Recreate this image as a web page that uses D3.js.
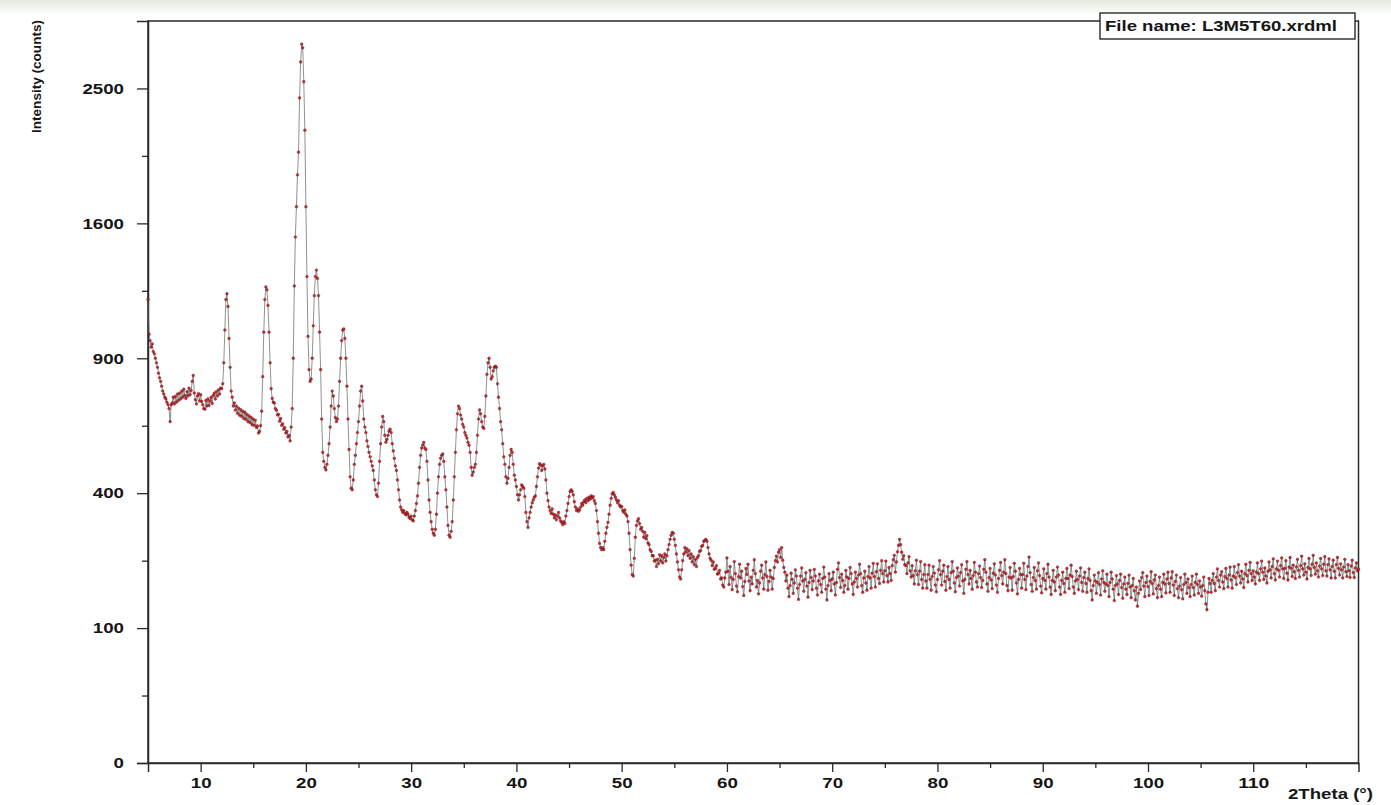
<!DOCTYPE html>
<html>
<head>
<meta charset="utf-8">
<script src="https://cdn.jsdelivr.net/npm/d3@7/dist/d3.min.js"></script>
<style>
  html, body { margin: 0; padding: 0; background: #fff; }
  svg { display: block; }
</style>
</head>
<body>
<svg id="chart" width="1391" height="805"></svg>
<script>
// Low-angle part of the scan: 5.0° to 59.9°, 0.1° per step
const lowScanStart = 5.0;
const lowScanStep = 0.1;
const lowScanCounts = [
  1180,1010,980,950,965,930,920,900,880,860,      // 5°
  835,815,800,780,760,748,735,728,715,705,        // 6°
  690,640,705,712,735,708,738,715,748,722,        // 7°
  752,728,760,735,768,742,730,758,740,772,        // 8°
  745,762,800,825,752,725,708,740,750,720,        // 9°
  745,718,705,690,688,722,700,728,702,720,        // 10°
  735,710,742,752,728,758,740,765,748,772,        // 11°
  770,790,880,1030,1180,1210,1145,990,860,760,    // 12°
  735,700,712,684,700,672,692,664,686,660,        // 13°
  680,652,676,648,668,640,662,636,656,628,        // 14°
  650,626,645,618,624,598,604,625,680,820,        // 15°
  1020,1180,1245,1230,1150,1020,880,770,730,715,  // 16°
  712,690,684,665,668,642,652,626,632,612,        // 17°
  618,598,604,584,590,570,620,690,900,1250,       // 18°
  1520,1700,1900,2050,2430,2700,2840,2810,2550,2200, // 19°
  1700,1300,1000,850,800,810,900,1050,1200,1300,  // 20°
  1335,1290,1200,1020,850,650,530,500,480,472,    // 21°
  490,520,560,620,700,760,740,690,655,640,        // 22°
  650,700,800,900,980,1030,1035,990,900,780,      // 23°
  650,540,450,415,410,440,490,520,560,600,        // 24°
  640,700,760,780,720,650,620,600,570,550,        // 25°
  530,515,500,485,470,440,410,395,390,430,        // 26°
  500,560,620,660,640,590,565,575,590,605,        // 27°
  612,600,560,535,510,485,470,440,410,380,        // 28°
  360,352,345,350,342,338,345,340,332,328,        // 29°
  335,325,322,335,350,370,392,430,480,520,        // 30°
  545,555,565,545,540,500,440,380,345,320,        // 31°
  300,290,285,300,340,400,450,490,510,520,        // 32°
  525,500,450,410,360,310,285,280,295,320,        // 33°
  380,450,530,610,670,700,690,665,650,630,        // 34°
  620,600,590,580,565,555,530,480,455,465,        // 35°
  480,490,530,590,650,685,670,640,620,615,        // 36°
  660,740,830,880,900,860,810,820,845,860,        // 37°
  865,860,790,735,690,640,610,560,515,490,        // 38°
  450,430,445,480,520,540,530,490,455,440,        // 39°
  420,395,380,395,410,425,420,415,390,345,        // 40°
  320,305,330,345,360,372,380,388,392,420,        // 41°
  450,478,492,488,470,485,490,475,440,400,        // 42°
  378,360,350,342,355,340,330,338,325,335,        // 43°
  345,330,322,318,312,320,315,335,350,370,        // 44°
  390,405,410,405,395,375,360,350,355,348,        // 45°
  352,360,370,365,375,380,372,385,378,388,        // 46°
  382,392,386,390,378,370,350,320,290,265,        // 47°
  255,250,255,250,270,290,305,318,340,365,        // 48°
  385,398,402,395,388,380,372,378,365,360,        // 49°
  362,350,345,352,340,335,320,290,250,215,        // 50°
  195,192,230,280,310,322,328,315,300,305,        // 51°
  295,280,292,276,284,266,262,250,246,236,        // 52°
  236,224,226,212,228,218,238,224,236,220,        // 53°
  232,240,224,236,250,262,275,285,292,290,        // 54°
  275,260,240,222,205,190,186,205,225,240,        // 55°
  255,244,252,236,248,230,240,222,234,216,        // 56°
  228,212,232,236,246,248,258,260,270,272,        // 57°
  275,270,255,240,230,226,214,222,206,208,        // 58°
  214,196,198,204,186,188,174,170,188,200         // 59°
];

// High-angle part of the scan: 60.0° to 120.0°, 0.1° per step
const highScanStart = 60.0;
const highScanStep = 0.1;
const highScanCounts = [
  231,202,175,212,189,165,185,223,197,172,   // 60°
  161,191,217,188,202,171,154,181,208,195,   // 61°
  217,182,163,190,176,204,227,197,170,183,   // 62°
  157,178,202,215,188,166,195,222,191,164,   // 63°
  181,204,190,166,187,210,225,235,222,244,   // 64°
  250,232,255,226,210,200,182,194,168,152,   // 65°
  173,198,185,158,178,205,192,168,147,175,   // 66°
  192,209,182,162,185,199,172,151,179,204,   // 67°
  189,165,182,206,192,168,155,182,196,175,   // 68°
  160,187,211,190,166,146,173,197,183,163,   // 69°
  186,200,176,155,179,206,220,189,169,196,   // 70°
  183,160,173,204,190,166,187,210,197,176,   // 71°
  156,180,200,187,170,194,217,197,173,160,   // 72°
  188,202,178,164,191,212,188,168,198,219,   // 73°
  191,170,201,218,187,177,204,225,197,180,   // 74°
  203,224,193,180,210,197,183,214,227,237,   // 75°
  200,222,245,260,275,262,244,228,236,216,   // 76°
  214,197,220,234,203,190,214,193,176,203,   // 77°
  226,195,175,202,223,185,168,195,216,182,   // 78°
  168,195,215,185,164,191,212,198,174,161,   // 79°
  185,205,225,195,174,202,215,181,164,191,   // 80°
  212,185,168,199,223,202,178,161,189,209,   // 81°
  192,172,199,216,182,158,185,206,223,195,   // 82°
  176,204,187,166,193,221,200,180,170,197,   // 83°
  213,189,169,183,206,227,200,176,162,189,   // 84°
  208,184,167,198,218,194,174,160,187,204,   // 85°
  221,193,176,200,227,197,173,163,190,210,   // 86°
  188,164,191,219,202,178,157,185,208,195,   // 87°
  168,195,219,185,165,192,212,233,199,175,   // 88°
  162,189,210,183,166,203,220,193,172,159,   // 89°
  187,207,183,166,197,217,190,170,156,183,   // 90°
  204,180,163,190,211,194,170,156,183,200,   // 91°
  177,160,187,208,187,167,194,215,191,170,   // 92°
  158,182,202,185,165,192,209,179,162,189,   // 93°
  200,177,160,187,207,183,163,146,173,194,   // 94°
  182,158,179,199,175,155,186,203,179,162,   // 95°
  176,196,173,152,179,200,186,166,145,173,   // 96°
  193,176,156,183,196,169,149,176,190,166,   // 97°
  156,177,194,170,150,173,187,163,146,170,   // 98°
  135,158,182,165,189,199,172,152,179,192,   // 99°
  171,154,181,201,177,157,184,194,167,150,   // 100°
  173,190,166,152,179,196,176,159,186,200,   // 101°
  177,160,188,201,174,154,181,194,167,150,   // 102°
  172,189,165,148,175,196,179,158,186,169,   // 103°
  152,175,192,169,155,179,196,175,158,182,   // 104°
  170,153,173,190,163,139,129,160,187,177,   // 105°
  160,183,197,177,163,190,207,183,170,194,   // 106°
  201,180,167,191,208,187,170,194,211,184,   // 107°
  168,192,212,189,175,199,216,192,178,202,   // 108°
  186,169,197,217,193,180,204,221,197,183,   // 109°
  203,190,176,200,220,197,183,207,224,200,   // 110°
  185,209,192,178,202,222,205,188,212,229,   // 111°
  197,184,207,224,204,190,214,231,207,187,   // 112°
  208,225,198,184,211,232,208,191,215,201,   // 113°
  187,211,228,204,190,214,235,207,194,218,   // 114°
  200,186,210,230,207,193,217,237,210,196,   // 115°
  220,203,190,213,230,207,193,217,234,203,   // 116°
  192,216,229,205,188,212,226,202,188,216,   // 117°
  232,208,194,218,205,188,211,228,201,191,   // 118°
  216,203,189,213,226,199,189,209,220,203,   // 119°
  206                                        // 120°
];

// Axis ticks (intensity axis uses a square-root scale)
const yMajorTicks = [0, 100, 400, 900, 1600, 2500];
const yMinorTicks = [25, 225, 625, 1225, 2025];
const xMajorTicks = [10, 20, 30, 40, 50, 60, 70, 80, 90, 100, 110];
const xMinorTicks = [15, 25, 35, 45, 55, 65, 75, 85, 95, 105, 115];
const xDomain = [5, 120];
const yDomain = [0, 3025];

const fileLabel = "File name:  L3M5T60.xrdml";
const xTitle = "2Theta (°)";
const yTitle = "Intensity (counts)";

// Assemble the scan as (2θ, counts) points
const points = [
  ...lowScanCounts.map((c, i) => ({ t: +(lowScanStart + i * lowScanStep).toFixed(2), c })),
  ...highScanCounts.map((c, i) => ({ t: +(highScanStart + i * highScanStep).toFixed(2), c }))
];

const svg = d3.select("#chart");
const W = 1391, H = 805;
const plot = { left: 148, right: 1358.5, top: 21, bottom: 763 };

const x = d3.scaleLinear().domain(xDomain).range([plot.left, plot.right]);
const y = d3.scaleSqrt().domain(yDomain).range([plot.bottom, plot.top]);

const FONT = "'Liberation Sans', Arial, Helvetica, sans-serif";
const INK = "#161616";

// faint band across the top edge
const defs = svg.append("defs");
const grad = defs.append("linearGradient").attr("id", "topband").attr("x1", 0).attr("y1", 0).attr("x2", 0).attr("y2", 1);
grad.append("stop").attr("offset", "0%").attr("stop-color", "#e4e8dc");
grad.append("stop").attr("offset", "100%").attr("stop-color", "#ffffff");
svg.append("rect").attr("x", 0).attr("y", 0).attr("width", W).attr("height", H).attr("fill", "#fff");
svg.append("rect").attr("x", 0).attr("y", 0).attr("width", W).attr("height", 14).attr("fill", "url(#topband)");

// plot frame
svg.append("rect")
  .attr("x", plot.left).attr("y", plot.top)
  .attr("width", plot.right - plot.left).attr("height", plot.bottom - plot.top)
  .attr("fill", "none").attr("stroke", "#2a2a2a").attr("stroke-width", 1.5);

// y axis
svg.append("g").attr("transform", `translate(${plot.left},0)`)
  .call(d3.axisLeft(y).tickValues(yMajorTicks).tickSize(11).tickPadding(13).tickFormat(d3.format("d")));
svg.append("g").attr("transform", `translate(${plot.left},0)`)
  .call(d3.axisLeft(y).tickValues(yMinorTicks).tickSize(6).tickFormat(""))
  .call(g => g.select(".domain").remove());

// x axis
svg.append("g").attr("transform", `translate(0,${plot.bottom})`)
  .call(d3.axisBottom(x).tickValues(xMajorTicks).tickSize(9).tickPadding(5).tickFormat(d3.format("d")));
svg.append("g").attr("transform", `translate(0,${plot.bottom})`)
  .call(d3.axisBottom(x).tickValues(xMinorTicks).tickSize(5).tickFormat(""))
  .call(g => g.select(".domain").remove());

svg.selectAll(".domain").attr("stroke", "#2a2a2a").attr("stroke-width", 1.5);
svg.selectAll(".tick line").attr("stroke", "#2a2a2a").attr("stroke-width", 1.3);
svg.selectAll(".tick text")
  .attr("font-family", FONT).attr("font-size", 15).attr("font-weight", "bold").attr("fill", INK)
  .each(function () {
    const s = d3.select(this).text();
    if (s) d3.select(this).attr("textLength", s.length * 10.4).attr("lengthAdjust", "spacingAndGlyphs");
  });

// scan trace: thin connecting line plus a marker at each step
const line = d3.line().x(d => x(d.t)).y(d => y(d.c));
svg.append("path").datum(points)
  .attr("d", line).attr("fill", "none")
  .attr("stroke", "#5e5e5e").attr("stroke-width", 0.8).attr("stroke-opacity", 0.85);

svg.append("g").selectAll("circle").data(points).join("circle")
  .attr("cx", d => x(d.t)).attr("cy", d => y(d.c)).attr("r", 1.4)
  .attr("fill", "#c4161b").attr("fill-opacity", 0.85)
  .attr("stroke", "#3a0808").attr("stroke-width", 0.4).attr("stroke-opacity", 0.7);

// file-name box
svg.append("rect").attr("x", 1100).attr("y", 13).attr("width", 255).attr("height", 26)
  .attr("fill", "#fff").attr("stroke", "#2a2a2a").attr("stroke-width", 1.4);
svg.append("text").attr("x", 1105).attr("y", 31)
  .attr("font-family", FONT).attr("font-size", 15).attr("font-weight", "bold").attr("fill", INK)
  .attr("textLength", 232).attr("lengthAdjust", "spacingAndGlyphs")
  .text(fileLabel);

// axis titles
svg.append("text").attr("x", 1288).attr("y", 799)
  .attr("font-family", FONT).attr("font-size", 14).attr("font-weight", "bold").attr("fill", INK)
  .attr("textLength", 85).attr("lengthAdjust", "spacingAndGlyphs")
  .text(xTitle);

svg.append("text").attr("transform", "translate(41,20) rotate(-90)")
  .attr("text-anchor", "end")
  .attr("font-family", FONT).attr("font-size", 12.5).attr("font-weight", "bold").attr("fill", INK)
  .attr("textLength", 113).attr("lengthAdjust", "spacingAndGlyphs")
  .text(yTitle);
</script>
</body>
</html>
